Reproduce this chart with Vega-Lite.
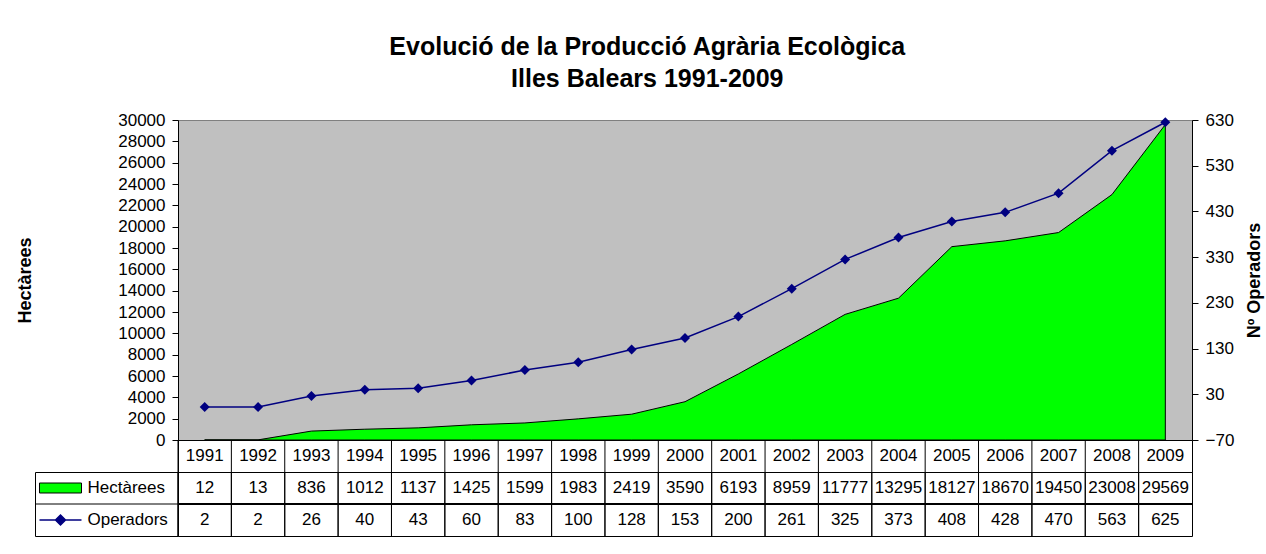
{
  "$schema": "https://vega.github.io/schema/vega-lite/v6.json",
  "padding": {"left": 16, "top": 34, "right": 0, "bottom": 0},
  "background": "white",
  "title": {
    "text": ["Evolució de la Producció Agrària Ecològica", "Illes Balears 1991-2009"],
    "anchor": "middle",
    "frame": "bounds",
    "font": "Liberation Sans",
    "fontSize": 25,
    "fontWeight": "bold",
    "color": "black",
    "lineHeight": 32,
    "offset": 19,
    "dx": 7
  },
  "datasets": {
    "d": [
      {"Any": "1991", "Hectàrees": 12, "Operadors": 2},
      {"Any": "1992", "Hectàrees": 13, "Operadors": 2},
      {"Any": "1993", "Hectàrees": 836, "Operadors": 26},
      {"Any": "1994", "Hectàrees": 1012, "Operadors": 40},
      {"Any": "1995", "Hectàrees": 1137, "Operadors": 43},
      {"Any": "1996", "Hectàrees": 1425, "Operadors": 60},
      {"Any": "1997", "Hectàrees": 1599, "Operadors": 83},
      {"Any": "1998", "Hectàrees": 1983, "Operadors": 100},
      {"Any": "1999", "Hectàrees": 2419, "Operadors": 128},
      {"Any": "2000", "Hectàrees": 3590, "Operadors": 153},
      {"Any": "2001", "Hectàrees": 6193, "Operadors": 200},
      {"Any": "2002", "Hectàrees": 8959, "Operadors": 261},
      {"Any": "2003", "Hectàrees": 11777, "Operadors": 325},
      {"Any": "2004", "Hectàrees": 13295, "Operadors": 373},
      {"Any": "2005", "Hectàrees": 18127, "Operadors": 408},
      {"Any": "2006", "Hectàrees": 18670, "Operadors": 428},
      {"Any": "2007", "Hectàrees": 19450, "Operadors": 470},
      {"Any": "2008", "Hectàrees": 23008, "Operadors": 563},
      {"Any": "2009", "Hectàrees": 29569, "Operadors": 625}
    ],
    "series": [{"serie": "Hectàrees"}, {"serie": "Operadors"}]
  },
  "columns": 2,
  "spacing": 0,
  "bounds": "flush",
  "resolve": {"scale": {"x": "independent", "y": "independent"}},
  "concat": [
    {"width": 143, "height": 320, "data": {"values": []}, "mark": "point"},
    {
      "width": 1014,
      "height": 320,
      "view": {"fill": "#C0C0C0", "stroke": "#808080"},
      "data": {"name": "d"},
      "layer": [
        {
          "mark": {"type": "area", "fill": "#00FF00", "stroke": "black", "strokeWidth": 1, "opacity": 1, "fillOpacity": 1},
          "encoding": {
            "x": {"field": "Any", "type": "ordinal", "scale": {"type": "point", "padding": 0.5}, "axis": null},
            "y": {
              "field": "Hectàrees", "type": "quantitative",
              "scale": {"domain": [0, 30000], "nice": false, "zero": true},
              "axis": {"values": [0, 2000, 4000, 6000, 8000, 10000, 12000, 14000, 16000, 18000, 20000, 22000, 24000, 26000, 28000, 30000],
                       "format": "d", "title": "Hectàrees", "titlePadding": 83}
            }
          }
        },
        {
          "mark": {"type": "line", "color": "#000080", "strokeWidth": 1.5,
                   "point": {"shape": "diamond", "filled": true, "size": 100, "color": "#000080", "opacity": 1}},
          "encoding": {
            "x": {"field": "Any", "type": "ordinal", "scale": {"type": "point", "padding": 0.5}, "axis": null},
            "y": {
              "field": "Operadors", "type": "quantitative",
              "scale": {"domain": [-70, 630], "nice": false, "zero": false},
              "axis": {"orient": "right", "values": [-70, 30, 130, 230, 330, 430, 530, 630],
                       "format": "d", "title": "Nº Operadors", "titleAngle": 270, "titlePadding": 30}
            }
          }
        }
      ],
      "resolve": {"scale": {"y": "independent"}}
    },
    {"width": 143, "height": 32, "data": {"values": []}, "mark": "point"},
    {
      "width": 1014,
      "height": 32,
      "view": {"stroke": "black"},
      "data": {"name": "d"},
      "layer": [
        {
          "mark": {"type": "text", "align": "center", "baseline": "middle"},
          "encoding": {
            "x": {"field": "Any", "type": "ordinal", "bandPosition": 0.5, "scale": {"type": "band", "paddingInner": 0, "paddingOuter": 0}, "axis": null},
            "text": {"field": "Any"}
          }
        },
        {
          "mark": {"type": "rule", "color": "black", "strokeWidth": 1},
          "encoding": {
            "x": {"field": "Any", "type": "ordinal", "bandPosition": 0, "scale": {"type": "band", "paddingInner": 0, "paddingOuter": 0}, "axis": null}
          }
        }
      ]
    },
    {
      "width": 143,
      "height": 64,
      "view": {"stroke": "black"},
      "data": {"name": "series"},
      "layer": [
        {
          "mark": {"type": "text", "align": "left", "baseline": "middle"},
          "encoding": {
            "x": {"datum": "label", "type": "nominal", "bandPosition": 0, "scale": {"type": "band", "domain": ["symbol", "label"], "paddingInner": 0.1, "paddingOuter": 0.507, "align": 0.0686}, "axis": null},
            "y": {"field": "serie", "type": "nominal", "bandPosition": 0.5, "scale": {"type": "band", "domain": ["Hectàrees", "Operadors"], "paddingInner": 0, "paddingOuter": 0}, "axis": null},
            "text": {"field": "serie"}
          }
        },
        {
          "transform": [{"filter": "datum.serie == 'Hectàrees'"}],
          "mark": {"type": "point", "shape": "M-2,-0.476H2V0.476H-2Z", "size": 441, "filled": true, "fill": "#00FF00", "stroke": "black", "strokeWidth": 1, "opacity": 1},
          "encoding": {
            "x": {"datum": "symbol", "type": "nominal", "bandPosition": 0.5, "scale": {"type": "band", "domain": ["symbol", "label"], "paddingInner": 0.1, "paddingOuter": 0.507, "align": 0.0686}, "axis": null},
            "y": {"field": "serie", "type": "nominal", "bandPosition": 0.5, "scale": {"type": "band", "domain": ["Hectàrees", "Operadors"], "paddingInner": 0, "paddingOuter": 0}, "axis": null}
          }
        },
        {
          "transform": [{"filter": "datum.serie == 'Operadors'"}],
          "mark": {"type": "point", "shape": "M-2,0H2M-0.476,0L0,-0.476L0.476,0L0,0.476Z", "size": 441, "filled": true, "fill": "#000080", "stroke": "#000080", "strokeWidth": 1.5, "opacity": 1},
          "encoding": {
            "x": {"datum": "symbol", "type": "nominal", "bandPosition": 0.5, "scale": {"type": "band", "domain": ["symbol", "label"], "paddingInner": 0.1, "paddingOuter": 0.507, "align": 0.0686}, "axis": null},
            "y": {"field": "serie", "type": "nominal", "bandPosition": 0.5, "scale": {"type": "band", "domain": ["Hectàrees", "Operadors"], "paddingInner": 0, "paddingOuter": 0}, "axis": null}
          }
        },
        {
          "transform": [{"filter": "datum.serie == 'Operadors'"}],
          "mark": {"type": "rule", "color": "black", "strokeWidth": 1},
          "encoding": {
            "y": {"field": "serie", "type": "nominal", "bandPosition": 0, "scale": {"type": "band", "domain": ["Hectàrees", "Operadors"], "paddingInner": 0, "paddingOuter": 0}, "axis": null}
          }
        }
      ]
    },
    {
      "width": 1014,
      "height": 64,
      "view": {"stroke": "black"},
      "data": {"name": "d"},
      "transform": [{"fold": ["Hectàrees", "Operadors"], "as": ["serie", "valor"]}],
      "layer": [
        {
          "mark": {"type": "text", "align": "center", "baseline": "middle"},
          "encoding": {
            "x": {"field": "Any", "type": "ordinal", "bandPosition": 0.5, "scale": {"type": "band", "paddingInner": 0, "paddingOuter": 0}, "axis": null},
            "y": {"field": "serie", "type": "nominal", "bandPosition": 0.5, "scale": {"type": "band", "domain": ["Hectàrees", "Operadors"], "paddingInner": 0, "paddingOuter": 0}, "axis": null},
            "text": {"field": "valor", "type": "quantitative", "format": "d"}
          }
        },
        {
          "mark": {"type": "rule", "color": "black", "strokeWidth": 1},
          "encoding": {
            "x": {"field": "Any", "type": "ordinal", "bandPosition": 0, "scale": {"type": "band", "paddingInner": 0, "paddingOuter": 0}, "axis": null}
          }
        },
        {
          "transform": [{"filter": "datum.serie == 'Operadors'"}],
          "mark": {"type": "rule", "color": "black", "strokeWidth": 1},
          "encoding": {
            "y": {"field": "serie", "type": "nominal", "bandPosition": 0, "scale": {"type": "band", "domain": ["Hectàrees", "Operadors"], "paddingInner": 0, "paddingOuter": 0}, "axis": null}
          }
        }
      ]
    }
  ],
  "config": {
    "view": {"stroke": null},
    "font": "Liberation Sans",
    "text": {"font": "Liberation Sans", "fontSize": 17, "color": "black"},
    "axis": {
      "domainColor": "black", "tickColor": "black", "labelColor": "black", "titleColor": "black",
      "labelFont": "Liberation Sans", "labelFontSize": 17,
      "titleFont": "Liberation Sans", "titleFontSize": 18, "titleFontWeight": "bold",
      "tickSize": 6, "labelPadding": 7, "grid": false, "domainWidth": 1, "tickWidth": 1
    }
  }
}
